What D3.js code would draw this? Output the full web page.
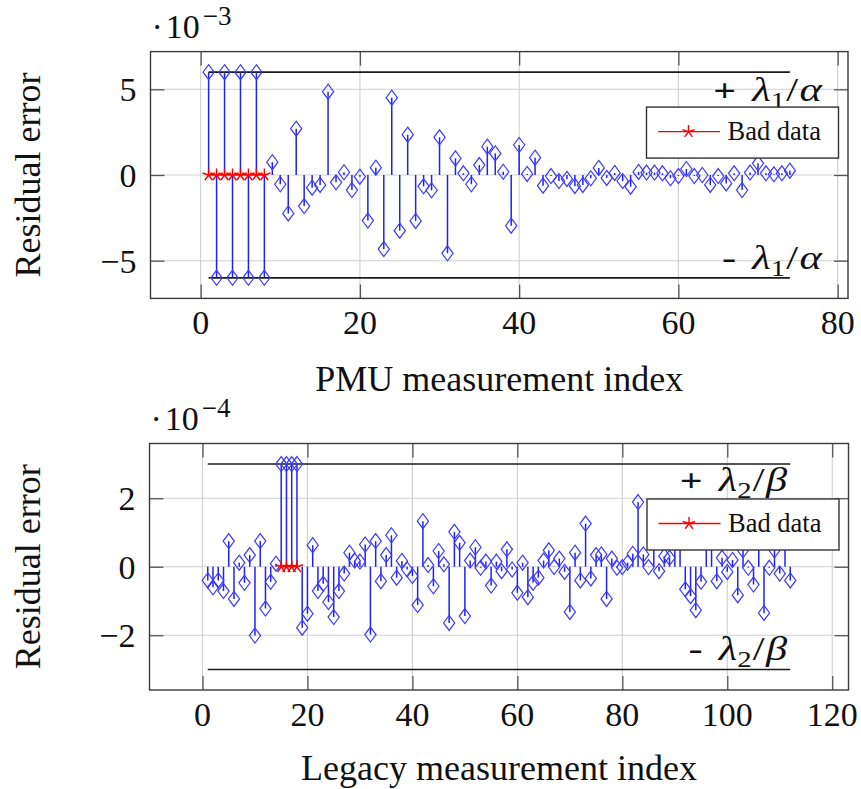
<!DOCTYPE html>
<html><head><meta charset="utf-8">
<script src="https://cdn.jsdelivr.net/npm/d3@7"></script>
<style>
body{margin:0;background:#fff}
svg text{font-family:"Liberation Serif","Times New Roman",serif;fill:#111}
</style>
</head><body>
<svg id="c" width="861" height="789"></svg>
<script>
// ---------- DATA ----------
// Top panel: PMU residuals (x 1e-3), index = position + 1
const pmuResiduals = [
  6,-6,6,-6,6,-6,6,-6,0.75,-0.54,
  -2.24,2.7,-1.81,-0.74,-0.58,4.86,-0.43,0.16,-0.88,-0.1,
  -2.66,0.43,-4.32,4.51,-3.25,2.35,-2.68,-0.66,-0.89,2.2,
  -4.57,0.97,0.1,-0.54,0.58,1.65,1.26,0.19,-2.96,1.75,
  0.06,1.01,-0.62,-0.06,-0.35,-0.23,-0.64,-0.58,-0.19,0.41,
  -0.17,0.12,-0.35,-0.68,0.18,0.14,0.14,0.1,-0.19,-0.06,
  0.35,-0.06,0.0,-0.58,-0.06,-0.49,0.1,-0.88,0.14,0.68,
  0.1,0.04,0.1,0.25
];
const pmuBadIndex = [1,2,3,4,5,6,7,8];
const pmuThreshold = 6;          // lambda1/alpha (x 1e-3)
const pmuXTicks = [0,20,40,60,80];
const pmuYTicks = [-5,0,5];

// Bottom panel: legacy residuals (x 1e-4)
const legacyResiduals = [
  -0.4,-0.6,-0.4,-0.71,0.75,-0.94,0.12,-0.47,0.34,-2.01,
  0.75,-1.22,-0.44,0.09,3,3,3,3,-1.78,-1.37,
  0.63,-0.71,-0.5,-1.03,-1.47,-0.71,-0.2,0.41,0.18,0.15,
  0.65,-1.98,0.75,-0.42,0.34,0.92,-0.32,0.17,-0.08,-0.27,
  -1.12,1.33,0.05,-0.57,0.46,0.07,-1.64,1.02,0.7,-1.44,
  0.18,0.57,-0.03,0.15,-0.55,0.15,-0.13,0.51,-0.08,-0.76,
  0.12,-0.89,-0.47,-0.32,0.18,0.48,-0.01,0.24,-0.15,-1.32,
  0.41,-0.4,1.26,-0.34,0.34,0.36,-0.94,0.24,-0.03,-0.01,
  0.12,0.38,1.89,0.36,-0.01,0.8,-0.13,0.31,0.26,0.9,
  0.7,-0.66,-0.86,-1.27,-0.44,1.0,0.75,-0.42,0.26,-0.15,
  0.2,-0.83,0.48,-0.03,-0.52,0.85,-1.35,-0.03,0.48,-0.2,
  0.7,-0.4
];
const legacyBadIndex = [15,16,17,18];
const legacyThreshold = 3;       // lambda2/beta (x 1e-4)
const legacyXTicks = [0,20,40,60,80,100,120];
const legacyYTicks = [-2,0,2];

const legendLabel = "Bad data";
const yTitle = "Residual error";

// ---------- DRAW ----------
const svg = d3.select("#c");

function drawPanel(o){
  const g = svg.append("g");
  const n = o.values.length;
  const pts = o.values.map((v,i)=>({x:i+1, y:v}));
  const xr = (n-1)*0.1, yr = o.thr*2*0.1;
  const x = d3.scaleLinear().domain([1-xr, n+xr]).range([o.left, o.right]);
  const y = d3.scaleLinear().domain([-o.thr-yr, o.thr+yr]).range([o.bottom, o.top]);

  // grid
  g.append("g").selectAll("line").data(o.xTicks).join("line")
    .attr("x1",d=>x(d)).attr("x2",d=>x(d)).attr("y1",o.top).attr("y2",o.bottom)
    .attr("stroke","#cfcfcf").attr("stroke-width",1.1);
  g.append("g").selectAll("line").data(o.yTicks).join("line")
    .attr("y1",d=>y(d)).attr("y2",d=>y(d)).attr("x1",o.left).attr("x2",o.right)
    .attr("stroke","#cfcfcf").attr("stroke-width",1.1);

  // inner ticks on all sides via d3 axes
  const tl = 14;
  const axB = d3.axisBottom(x).tickValues(o.xTicks).tickSize(-tl).tickFormat("");
  const axT = d3.axisTop(x).tickValues(o.xTicks).tickSize(-tl).tickFormat("");
  const axL = d3.axisLeft(y).tickValues(o.yTicks).tickSize(-tl).tickFormat("");
  const axR = d3.axisRight(y).tickValues(o.yTicks).tickSize(-tl).tickFormat("");
  [[axB,`translate(0,${o.bottom})`],[axT,`translate(0,${o.top})`],
   [axL,`translate(${o.left},0)`],[axR,`translate(${o.right},0)`]].forEach(([a,t])=>{
    const s = g.append("g").attr("transform",t).call(a);
    s.select(".domain").remove();
    s.selectAll(".tick line").attr("stroke","#555").attr("stroke-width",1.3);
  });

  // tick labels
  const fmt = d => (d<0?"\u2212":"")+Math.abs(d);
  g.append("g").selectAll("text").data(o.xTicks).join("text")
    .attr("x",d=>x(d)).attr("y",o.bottom+36).attr("text-anchor","middle")
    .attr("font-size",34).text(fmt);
  g.append("g").selectAll("text").data(o.yTicks).join("text")
    .attr("x",o.left-14).attr("y",d=>y(d)+12).attr("text-anchor","end")
    .attr("font-size",34).text(fmt);

  // exponent
  const ex = g.append("text").attr("x",o.left+1).attr("y",o.top-14).attr("font-size",34);
  ex.append("tspan").text("\u00b7");
  ex.append("tspan").attr("dx",3).text("10");
  ex.append("tspan").attr("dx",3).attr("dy",-13).attr("font-size",27).text("\u2212"+o.exp);

  // threshold lines
  g.append("g").selectAll("line").data([o.thr,-o.thr]).join("line")
    .attr("x1",x(1)).attr("x2",x(n)).attr("y1",d=>y(d)).attr("y2",d=>y(d))
    .attr("stroke","#1a1a1a").attr("stroke-width",1.6);

  // stems
  g.append("g").selectAll("line").data(pts).join("line")
    .attr("x1",d=>x(d.x)).attr("x2",d=>x(d.x)).attr("y1",y(0)).attr("y2",d=>y(d.y))
    .attr("stroke","#1f1fff").attr("stroke-width",1.5);
  // diamonds
  const dia = "M0,-7.5L5.6,0L0,7.5L-5.6,0Z";
  g.append("g").selectAll("path").data(pts).join("path")
    .attr("transform",d=>`translate(${x(d.x)},${y(d.y)})`)
    .attr("d",dia).attr("fill","none").attr("stroke","#3a3aff").attr("stroke-width",1.2);

  // bad data line + stars
  const bad = o.bad.map(i=>({x:i,y:0}));
  g.append("path").datum(bad)
    .attr("d",d3.line().x(d=>x(d.x)).y(d=>y(d.y)))
    .attr("stroke","#ff0000").attr("stroke-width",1.4).attr("fill","none");
  const star = (()=>{let s="";for(let k=0;k<5;k++){const a=-Math.PI/2+k*2*Math.PI/5;s+=`M0,0L${(6.5*Math.cos(a)).toFixed(2)},${(6.5*Math.sin(a)).toFixed(2)}`;}return s;})();
  g.append("g").selectAll("path").data(bad).join("path")
    .attr("transform",d=>`translate(${x(d.x)},${y(d.y)})`)
    .attr("d",star).attr("stroke","#ff0000").attr("stroke-width",1.4).attr("fill","none");

  // threshold labels
  function thrLabel(sign, yy){
    const t = g.append("text").attr("transform",`translate(${x(o.labelX)},${yy}) scale(1.25,1)`)
      .attr("text-anchor","end").attr("font-size",34);
    t.append("tspan").attr("font-size",sign==="+"?32:34).attr("font-weight",sign==="+"?"bold":"normal").text(sign);
    t.append("tspan").attr("dx",13).attr("font-style","italic").text("\u03bb");
    t.append("tspan").attr("font-size",23).attr("dy",7).text(o.sub);
    t.append("tspan").attr("dx",1).attr("dy",-7).text("/");
    t.append("tspan").attr("dx",1).attr("font-style","italic").text(o.greek);
  }
  thrLabel("+", y(o.thr)+o.plusDy);
  thrLabel("-", y(-o.thr)+o.minusDy);

  // legend
  const lx = o.right-201.5, ly = o.top+55.5;
  const lg = g.append("g").attr("transform",`translate(${lx},${ly})`);
  lg.append("rect").attr("width",192).attr("height",51).attr("fill","#fff")
    .attr("stroke","#333").attr("stroke-width",1.4);
  lg.append("line").attr("x1",11.5).attr("x2",73.5).attr("y1",24.5).attr("y2",24.5)
    .attr("stroke","#ff0000").attr("stroke-width",1.4);
  lg.append("path").attr("transform","translate(42,24.5)").attr("d",star)
    .attr("stroke","#ff0000").attr("stroke-width",1.4).attr("fill","none");
  lg.append("text").attr("x",81).attr("y",33).attr("font-size",26.5).text(legendLabel);

  // frame
  g.append("rect").attr("x",o.left).attr("y",o.top).attr("width",o.right-o.left).attr("height",o.bottom-o.top)
    .attr("fill","none").attr("stroke","#3a3a3a").attr("stroke-width",1.4);

  // axis titles
  g.append("text").attr("x",(o.left+o.right)/2).attr("y",o.bottom+o.titleDy)
    .attr("text-anchor","middle").attr("font-size",36).text(o.xTitle);
  g.append("text").attr("transform",`translate(${o.yTitleX},${(o.top+o.bottom)/2}) rotate(-90)`)
    .attr("text-anchor","middle").attr("font-size",36).text(yTitle);
}

drawPanel({values:pmuResiduals, bad:pmuBadIndex, thr:pmuThreshold,
  xTicks:pmuXTicks, yTicks:pmuYTicks, left:150.5, right:848, top:51.6, bottom:298.4,
  exp:"3", sub:"1", greek:"\u03b1", labelX:78, plusDy:29, minusDy:-9,
  titleDy:93, xTitle:"PMU measurement index", yTitleX:40});

drawPanel({values:legacyResiduals, bad:legacyBadIndex, thr:legacyThreshold,
  xTicks:legacyXTicks, yTicks:legacyYTicks, left:149.5, right:848.5, top:443.5, bottom:690,
  exp:"4", sub:"2", greek:"\u03b2", labelX:111.4, plusDy:27, minusDy:-9,
  titleDy:90, xTitle:"Legacy measurement index", yTitleX:40});
</script>
</body></html>
